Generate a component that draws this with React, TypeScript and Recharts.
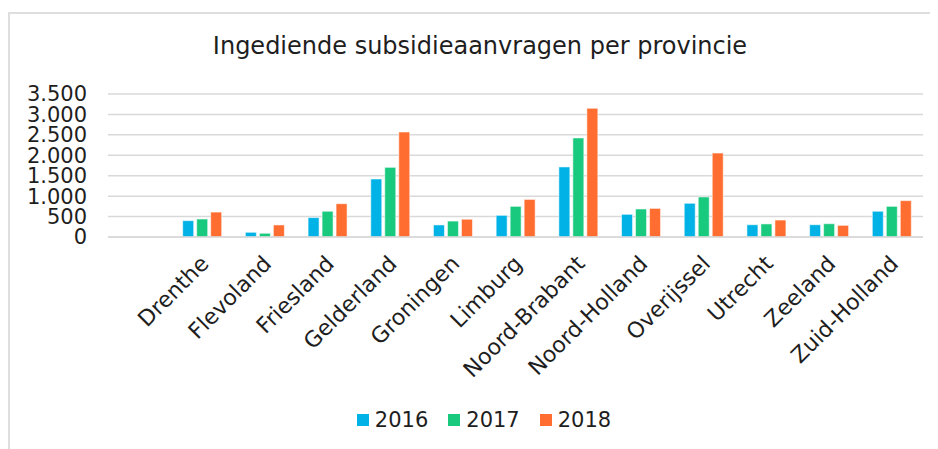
import React from "react";
import { BarChart, Bar, XAxis, YAxis, CartesianGrid, Legend } from "recharts";

// first category is empty in the source sheet, which leaves a blank slot at the left
const provinces = [
  "", "Drenthe", "Flevoland", "Friesland", "Gelderland", "Groningen", "Limburg",
  "Noord-Brabant", "Noord-Holland", "Overijssel", "Utrecht", "Zeeland", "Zuid-Holland",
];
const aanvragen2016 = [null, 400, 115, 475, 1420, 295, 530, 1715, 555, 825, 300, 300, 630];
const aanvragen2017 = [null, 440, 90, 630, 1705, 390, 750, 2425, 685, 980, 320, 325, 750];
const aanvragen2018 = [null, 610, 295, 815, 2570, 435, 920, 3150, 700, 2055, 415, 285, 890];
const yTicks = [0, 500, 1000, 1500, 2000, 2500, 3000, 3500];

const series = [
  { key: "y2016", name: "2016", color: "#00B2E6" },
  { key: "y2017", name: "2017", color: "#19C97E" },
  { key: "y2018", name: "2018", color: "#FF6E30" },
];

const data = provinces.map((province, i) => ({
  province,
  y2016: aanvragen2016[i],
  y2017: aanvragen2017[i],
  y2018: aanvragen2018[i],
}));

const FONT = "'DejaVu Sans', Verdana, sans-serif";
const INK = "#1e1e1e";

const fmt = (v: number) => String(v).replace(/\B(?=(\d{3})+(?!\d))/g, ".");

const ProvinceTick = ({ x, y, payload }: any) => {
  if (!payload?.value) return <g />;
  const ax = x + 8;
  const ay = y + 28;
  return (
    <text
      x={ax}
      y={ay}
      textAnchor="end"
      transform={`rotate(-45, ${ax}, ${ay})`}
      fontSize={22}
      fontFamily={FONT}
      fill={INK}
    >
      {payload.value}
    </text>
  );
};

const LegendRow = () => (
  <div style={{ display: "flex", justifyContent: "center", alignItems: "center", fontFamily: FONT, fontSize: 21, color: INK }}>
    {series.map((s, i) => (
      <span key={s.key} style={{ display: "flex", alignItems: "center", marginLeft: i ? 20 : 0 }}>
        <span style={{ width: 12, height: 12, background: s.color, marginRight: 6 }} />
        {s.name}
      </span>
    ))}
  </div>
);

export default function App() {
  return (
    <div style={{ position: "relative", width: 930, height: 441 }}>
      <div
        style={{
          position: "absolute", left: 0, top: 4, width: 930, height: 437, boxSizing: "border-box",
          borderTop: "2px solid #dedede", borderLeft: "2px solid #dedede",
        }}
      />
      <div
        style={{
          position: "absolute", left: 0, top: 24, width: 930, overflow: "hidden",
          fontFamily: FONT, fontSize: 24, color: INK, whiteSpace: "nowrap", pointerEvents: "none",
        }}
      >
        <span style={{ display: "inline-block", width: 944, textAlign: "center" }}>
          Ingediende subsidieaanvragen per provincie
        </span>
      </div>
      <div style={{ position: "absolute", left: 0, top: 0 }}>
        <BarChart
          width={930}
          height={441}
          data={data}
          margin={{ top: 86, right: 15, left: 0, bottom: 0 }}
          barSize={11}
          barGap={3}
        >
          <CartesianGrid vertical={false} stroke="#d9d9d9" strokeWidth={1.5} />
          <XAxis
            dataKey="province"
            interval={0}
            height={212}
            tickSize={0}
            tickMargin={0}
            tickLine={false}
            axisLine={{ stroke: "#d9d9d9", strokeWidth: 1.5 }}
            tick={<ProvinceTick />}
          />
          <YAxis
            width={100}
            domain={[0, 3500]}
            ticks={yTicks}
            interval={0}
            tickFormatter={fmt}
            tickSize={0}
            tickMargin={21}
            tickLine={false}
            axisLine={false}
            tick={{ fontSize: 21, fontFamily: FONT, fill: INK }}
          />
          <Legend
            verticalAlign="middle"
            align="center"
            layout="horizontal"
            wrapperStyle={{ top: 400, left: 22, width: 908 }}
            content={<LegendRow />}
          />
          {series.map((s) => (
            <Bar
              key={s.key}
              dataKey={s.key}
              name={s.name}
              fill={s.color}
              stroke="#ffffff"
              strokeOpacity={0.55}
              strokeWidth={1}
              isAnimationActive={false}
            />
          ))}
        </BarChart>
      </div>
    </div>
  );
}
